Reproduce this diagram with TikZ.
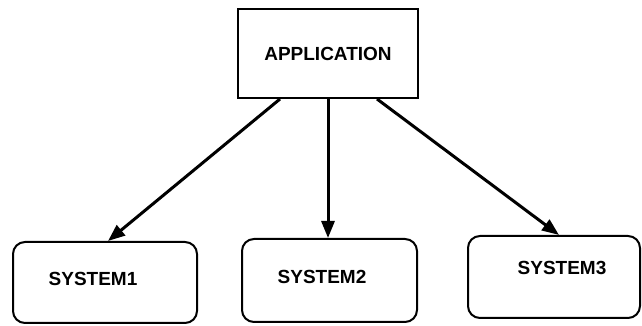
\documentclass[tikz,border=0pt]{standalone}
\usepackage{fontspec}
\setmainfont{Liberation Sans}
\usetikzlibrary{arrows.meta,calc}
\begin{document}
\begin{tikzpicture}[x=1pt,y=1pt,
  lbl/.style={font=\fontsize{19}{22}\selectfont\bfseries},
  appbox/.style={draw,line width=2pt,minimum width=180pt,minimum height=89pt,inner sep=0pt,lbl},
  sysbox/.style={draw,line width=2pt,rounded corners=12pt,inner sep=0pt},
  arr/.style={line width=3pt,-{Triangle[length=17pt,width=13pt]}}]
\useasboundingbox (0,0) rectangle (642,326);
\node[appbox] (app) at (328,272.5) {APPLICATION};
\node[sysbox,minimum width=184pt,minimum height=81pt] (s1) at (105,43.5) {};
\node[sysbox,minimum width=175pt,minimum height=83pt] (s2) at (329.5,45.5) {};
\node[sysbox,minimum width=172pt,minimum height=82pt] (s3) at (554,49) {};
\node[lbl] (t1) at (93,47) {SYSTEM1};
\node[lbl] (t2) at (322,49) {SYSTEM2};
\node[lbl] (t3) at (562,58) {SYSTEM3};
\draw[arr] ($(app.south)+(-48,0)$) -- ($(s1.north)+(3,0)$);
\draw[arr] ($(app.south)+(0,0)$) -- ($(s2.north)+(-1.5,0)$);
\draw[arr] ($(app.south)+(49,0)$) -- ($(s3.north)+(5,0)$);
\end{tikzpicture}
\end{document}
